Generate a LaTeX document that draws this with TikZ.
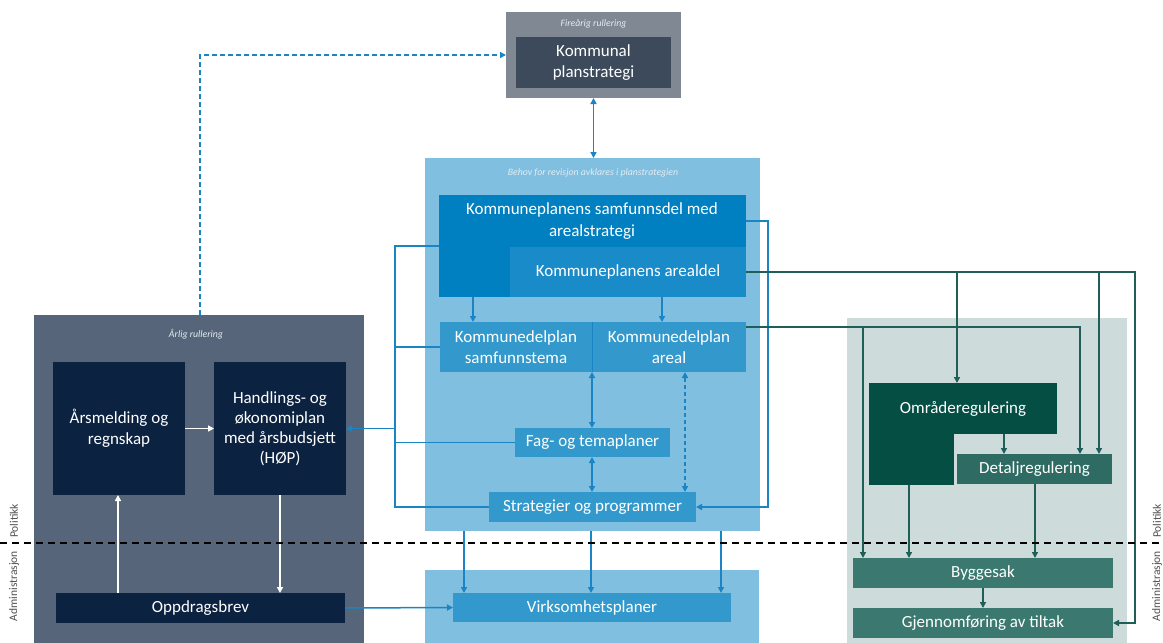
\documentclass[tikz,border=0pt]{standalone}
\usepackage{fontspec}
\setmainfont{Carlito}
\usetikzlibrary{arrows.meta}
\definecolor{topO}{HTML}{7F8893}
\definecolor{topI}{HTML}{3C4A5B}
\definecolor{cbg}{HTML}{80BFE0}
\definecolor{samfc}{HTML}{0080C1}
\definecolor{arealc}{HTML}{1A8BC9}
\definecolor{midb}{HTML}{3399CC}
\definecolor{lineb}{HTML}{1B84C4}
\definecolor{lpan}{HTML}{566579}
\definecolor{darkb}{HTML}{0C2241}
\definecolor{rpan}{HTML}{CDDBDA}
\definecolor{omrc}{HTML}{054E44}
\definecolor{detc}{HTML}{2E6B62}
\definecolor{byggc}{HTML}{3B7970}
\definecolor{lineg}{HTML}{1F5F58}
\definecolor{labc}{HTML}{E4ECF2}
\definecolor{sidec}{HTML}{505050}
\begin{document}
\begin{tikzpicture}[x=1pt,y=-1pt,
 bx/.style={anchor=north west, inner sep=0pt, outer sep=0pt, text=white, align=center, font=\fontsize{17}{21}\selectfont},
 lab/.style={text=labc, font=\fontsize{9.8}{11}\selectfont\itshape, inner sep=0pt},
 side/.style={text=sidec, font=\fontsize{11.5}{12}\selectfont, rotate=90, inner sep=0pt},
 bl/.style={draw=lineb, line width=1.5pt},
 arr/.style={bl, -{Triangle[length=6pt,width=6pt]}},
 darr/.style={bl, {Triangle[length=6pt,width=6pt]}-{Triangle[length=6pt,width=6pt]}},
 gl/.style={draw=lineg, line width=1.7pt},
 garr/.style={gl, -{Triangle[length=6pt,width=6pt]}},
 warr/.style={draw=white, line width=1.5pt, -{Triangle[length=6pt,width=6pt]}},
]
\useasboundingbox (0,0) rectangle (1163,643);

% ---- top box
\node[bx, fill=topO, minimum width=175pt, minimum height=86pt] (topO) at (506,12) {};
\node[lab] (topL) at (593.5,24) {Fireårig rullering};
\node[bx, fill=topI, minimum width=155pt, minimum height=51pt] (topI) at (516,37) {Kommunal\\planstrategi};

% ---- central area
\node[bx, fill=cbg, minimum width=335pt, minimum height=373pt] (cbox) at (425,158) {};
\node[lab] (cboxL) at (593,173) {Behov for revisjon avklares i planstrategien};
\node[bx, fill=samfc, minimum width=307pt, minimum height=102pt] (samf) at (439,195) {};
\node[text=white, align=center, font=\fontsize{17}{22}\selectfont, inner sep=0pt] (samfT) at (592,221) {Kommuneplanens samfunnsdel med\\arealstrategi};
\node[bx, fill=arealc, minimum width=236pt, minimum height=50pt] (areal) at (510,247) {Kommuneplanens arealdel};
\node[bx, fill=midb, minimum width=152pt, minimum height=50pt] (kdpS) at (440,322) {Kommunedelplan\\samfunnstema};
\node[bx, fill=midb, minimum width=154pt, minimum height=50pt] (kdpA) at (592,322) {Kommunedelplan\\areal};
\draw[draw=lineb, line width=0.8pt] (kdpA.north west) -- (kdpA.south west);
\node[bx, fill=midb, minimum width=155pt, minimum height=29pt] (fag) at (515,428) {Fag- og temaplaner};
\node[bx, fill=midb, minimum width=207pt, minimum height=30pt] (strat) at (489,492) {Strategier og programmer};
\node[bx, fill=cbg, minimum width=334pt, minimum height=73pt] (vbox) at (425,570) {};
\node[bx, fill=midb, minimum width=278pt, minimum height=29pt] (virk) at (453,593) {Virksomhetsplaner};

% ---- left panel
\node[bx, fill=lpan, minimum width=330pt, minimum height=328pt] (lpan) at (34,315) {};
\node[lab] (lpanL) at (196,334) {Årlig rullering};
\node[bx, fill=darkb, minimum width=132pt, minimum height=133pt] (ars) at (53,362) {Årsmelding og\\regnskap};
\node[bx, fill=darkb, minimum width=132pt, minimum height=133pt, font=\fontsize{17}{20}\selectfont] (hop) at (214,362) {Handlings- og\\økonomiplan\\med årsbudsjett\\(HØP)};
\node[bx, fill=darkb, minimum width=289pt, minimum height=30pt] (opp) at (56,593) {Oppdragsbrev};

% ---- right panel
\node[bx, fill=rpan, minimum width=280pt, minimum height=325pt] (rpan) at (847,318) {};
\node[bx, fill=omrc, minimum width=188pt, minimum height=51pt] (omr) at (869,383) {Områderegulering};
\node[bx, fill=omrc, minimum width=85pt, minimum height=52pt] (omrlow) at (869,433) {};
\node[bx, fill=detc, minimum width=155pt, minimum height=30pt] (det) at (957,454) {Detaljregulering};
\node[bx, fill=byggc, minimum width=260pt, minimum height=30pt] (bygg) at (853,558) {Byggesak};
\node[bx, fill=byggc, minimum width=260pt, minimum height=30pt] (gjen) at (853,608) {Gjennomføring av tiltak};

% ---- helper coordinates
\coordinate (cA) at (473,0);
\coordinate (cB) at (662,0);
\coordinate (cC) at (592,0);
\coordinate (cD) at (685,0);
\coordinate (cL) at (395,0);
\coordinate (cR) at (768,0);
\coordinate (rR) at (0,221);
\coordinate (rK) at (0,327);
\coordinate (v1) at (464,0);
\coordinate (v2) at (591,0);
\coordinate (v3) at (721,0);
\coordinate (g1) at (957,0);
\coordinate (g2) at (1099,0);
\coordinate (g3) at (1135,0);
\coordinate (g4) at (863,0);
\coordinate (g5) at (1080,0);
\coordinate (g6) at (909,0);
\coordinate (g7) at (1004,0);
\coordinate (g8) at (1035,0);
\coordinate (w1) at (118,0);
\coordinate (w2) at (280,0);
\coordinate (d1) at (200,0);

% ---- blue connectors
\draw[darr] (topO.south) -- (cbox.north -| topO.south);
\draw[bl, dashed, dash pattern=on 5pt off 3pt, -{Triangle[length=6pt,width=6pt]}] (lpan.north -| d1) -- (d1 |- topO.west) -- (topO.west);
\draw[arr] (samf.south -| cA) -- (kdpS.north -| cA);
\draw[arr] (samf.south -| cB) -- (kdpA.north -| cB);
\draw[darr] (kdpS.south -| cC) -- (fag.north -| cC);
\draw[darr] (fag.south -| cC) -- (strat.north -| cC);
\draw[bl, dashed, dash pattern=on 4pt off 3pt, {Triangle[length=6pt,width=6pt]}-{Triangle[length=6pt,width=6pt]}] (kdpA.south -| cD) -- (strat.north -| cD);
\draw[bl] (samf.west) -- (samf.west -| cL) -- (strat.west -| cL) -- (strat.west);
\draw[bl] (kdpS.west) -- (kdpS.west -| cL);
\draw[bl] (fag.west) -- (fag.west -| cL);
\draw[arr] (hop.east -| cL) -- (hop.east);
\draw[arr] (samf.east |- rR) -- (cR |- rR) -- (cR |- strat.east) -- (strat.east);
\draw[arr] (cbox.south -| v1) -- (virk.north -| v1);
\draw[arr] (cbox.south -| v2) -- (virk.north -| v2);
\draw[arr] (cbox.south -| v3) -- (virk.north -| v3);
\draw[arr] (opp.east) -- (virk.west);

% ---- white connectors
\draw[warr] (ars.east) -- (hop.west);
\draw[warr] (opp.north -| w1) -- (ars.south -| w1);
\draw[warr] (hop.south -| w2) -- (opp.north -| w2);

% ---- green connectors
\draw[garr] (areal.east) -- (areal.east -| g3) -- (gjen.east -| g3) -- (gjen.east);
\draw[garr] (areal.east -| g1) -- (omr.north -| g1);
\draw[garr] (areal.east -| g2) -- (det.north -| g2);
\draw[garr] (kdpA.east |- rK) -- (g5 |- rK) -- (det.north -| g5);
\draw[garr] (g4 |- rK) -- (bygg.north -| g4);
\draw[garr] (omr.south -| g7) -- (det.north -| g7);
\draw[garr] (omrlow.south -| g6) -- (bygg.north -| g6);
\draw[garr] (det.south -| g8) -- (bygg.north -| g8);
\draw[garr] (bygg.south) -- (gjen.north);

% ---- politics / administration divider
\coordinate (dl) at (0,543);
\coordinate (dr) at (1163,543);
\draw[black, line width=1.6pt, dash pattern=on 7pt off 5pt] (dl) -- (dr);
\node[side] (polL) at (14,521) {Politikk};
\node[side] (admL) at (14,586) {Administrasjon};
\node[side] (polR) at (1157,521) {Politikk};
\node[side] (admR) at (1157,586) {Administrasjon};
\end{tikzpicture}
\end{document}
